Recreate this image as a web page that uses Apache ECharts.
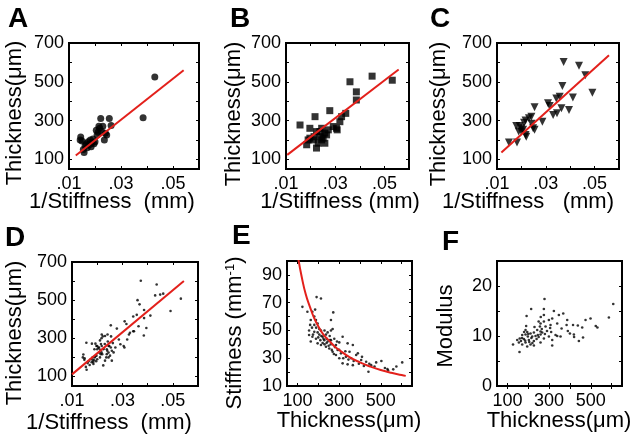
<!DOCTYPE html>
<html><head><meta charset="utf-8">
<script src="https://cdn.jsdelivr.net/npm/echarts@6/dist/echarts.min.js"></script>
<style>html,body{margin:0;padding:0;background:#fff}#c{width:642px;height:444px}</style>
</head><body><div id="c"></div>
<script>
// ---------- DATA ----------
// Panel A: 1/Stiffness (mm) vs Thickness (µm), circles
const panelA = [[0.0145,215],[0.0143,200],[0.0150,195],[0.0155,150],[0.0158,135],[0.0162,170],[0.0166,180],[0.0170,160],[0.0174,190],[0.0178,175],[0.0182,200],[0.0185,165],[0.0188,185],[0.0192,205],[0.0196,180],[0.0200,190],[0.0205,250],[0.0208,225],[0.0212,240],[0.0215,270],[0.0218,260],[0.0222,310],[0.0225,245],[0.0230,270],[0.0236,200],[0.0240,235],[0.0245,225],[0.0255,310],[0.0262,275],[0.0385,315],[0.0430,525]];
const fitA = [[0.0126,120],[0.0541,559]];
// Panel B: squares
const panelB = [[0.0157,277],[0.0197,260],[0.0218,320],[0.0184,175],[0.0190,200],[0.0197,209],[0.0211,200],[0.0214,217],[0.0224,158],[0.0231,183],[0.0238,217],[0.0245,260],[0.0245,200],[0.0251,209],[0.0258,235],[0.0258,183],[0.0265,226],[0.0272,252],[0.0278,351],[0.0292,269],[0.0305,260],[0.0308,252],[0.0319,294],[0.0326,320],[0.0343,337],[0.0360,500],[0.0386,448],[0.0386,406],[0.0450,529],[0.0532,508],[0.0238,243],[0.0224,243]];
const fitB = [[0.0105,123],[0.0558,563]];
// Panel C: down-triangles
const panelC = [[0.0149,187],[0.0182,187],[0.0179,272],[0.0193,272],[0.0200,260],[0.0189,243],[0.0207,252],[0.0217,226],[0.0220,217],[0.0217,300],[0.0231,312],[0.0241,320],[0.0254,368],[0.0248,260],[0.0254,252],[0.0286,294],[0.0309,389],[0.0316,375],[0.0330,329],[0.0346,337],[0.0343,414],[0.0357,423],[0.0368,478],[0.0373,602],[0.0364,363],[0.0395,354],[0.0411,419],[0.0436,582],[0.0462,534],[0.0491,443],[0.0200,243],[0.0211,289],[0.0242,283]];
const fitC = [[0.0118,135],[0.0559,637]];
// Panel D: all samples (A, B and C together)
const fitD = [[0.0100,111],[0.0544,600]];
// Panel E: Thickness (µm) vs Stiffness (mm^-1)
const panelE = [[192,74],[213,73],[124,67],[148,63.5],[172,63.5],[185,65],[181,60],[189,57.5],[164,57.5],[161,54],[181,54],[197,55],[156,50],[181,49],[197,48.6],[213,50],[172,45.5],[189,44],[205,47],[221,45.5],[237,47],[245,48.6],[261,50],[269,51],[272,63],[261,57.5],[229,43],[245,42],[261,43],[277,44],[197,40.7],[213,39.5],[237,38.3],[221,41],[253,37],[269,34.7],[285,39.5],[301,41.4],[317,45.5],[293,36],[309,33.5],[341,40.7],[366,39.5],[350,34.7],[333,31],[358,30],[382,32.3],[390,33.5],[317,26.3],[341,25.6],[366,25],[406,28.7],[430,27.5],[454,25],[478,27],[503,28],[419,24.4],[441,20.3],[532,22.2],[535,21.3],[575,24],[603,27],[285,32.3],[301,30],[256,43],[164,42],[156,46.7],[200,45],[210,43],[215,46],[225,44],[230,40],[240,41],[250,39],[255,46],[265,36],[280,38],[190,52],[205,51],[170,52],[175,47],[230,50],[240,44],[260,40],[275,33],[290,42],[300,36],[320,30],[330,35],[345,29],[370,28],[395,26],[410,31],[445,26],[470,24],[520,23],[560,22]];
const fitEThick = [105,120,140,160,180,200,225,250,275,300,350,400,450,500,550,600,620];
const fitEStiff = [101,89,76,67,59,53,47,43,39,36,30.8,27,24,21.5,19.5,17.9,17.3];
// Panel F: Thickness (µm) vs Modulus
const panelF = [[278,17.4],[214,15.4],[192,14],[275,15.4],[275,14.2],[323,15],[347,14.2],[368,14.5],[259,12.5],[275,12.9],[299,13.2],[315,13.5],[256,11.9],[283,11.9],[307,12.2],[190,12],[187,11.2],[339,12.5],[387,13.2],[384,12.2],[415,12.2],[438,12.1],[459,11.7],[499,13.5],[475,13.2],[524,12],[532,11.7],[587,13.7],[608,16.4],[400,10.5],[419,10.3],[339,10],[355,9.9],[443,9],[463,9.7],[315,9.2],[331,10.2],[243,11.2],[259,10.9],[227,10.7],[211,10.5],[171,10.2],[187,10.3],[198,9.9],[219,9.9],[159,9.5],[179,9.4],[203,9.2],[227,9],[147,9.2],[155,8.7],[187,8.7],[211,8.3],[171,8.3],[195,7.9],[127,8.3],[158,6.8],[227,8.1],[259,8.7],[315,8.1],[275,9.5],[299,9.9],[246,10.2],[259,10.3],[267,10.7],[180,10.8],[200,10.4],[215,9.6],[235,10],[250,9.8],[185,9.1],[205,8.8],[170,9.6],[240,9.4],[265,11.4],[290,11],[305,11.6],[230,11.8],[250,12.9],[260,13.8],[165,9],[195,10.8],[220,8.6],[280,10.4],[310,10.8],[360,11.5],[390,11],[420,9.8]];

// tick values / labels
const invTicks = [0.01,0.02,0.03,0.04,0.05];
const invLabels = [0.01,0.03,0.05];
const thickTicks = [100,200,300,400,500,600,700];
const thickLabels = [100,300,500,700];
const thickXTicks = [100,200,300,400,500,600];
const thickXLabels = [100,300,500];
const stiffTicks = [10,20,30,40,50,60,70,80,90];
const stiffLabels = [10,30,50,70,90];
const modTicks = [0,5,10,15,20];
const modLabels = [0,10,20];

// ---------- CHART ----------
const FONT = '"Liberation Sans", Arial, Helvetica, sans-serif';
const RED = '#e3201b';
const grids = [
  {left:69, top:43, width:130, height:126},
  {left:286, top:43, width:123, height:126},
  {left:497, top:43, width:122, height:126},
  {left:72, top:262, width:126, height:124},
  {left:287, top:261, width:125, height:125},
  {left:497, top:261, width:125, height:125}
].map(g => Object.assign({show:true, borderColor:'#000', borderWidth:2, backgroundColor:'transparent'}, g));

const invFmt = v => String(+v.toFixed(2)).replace(/^0/, '');
function xPair(gi, min, max, ticks, labels, fmt){
  const base = {type:'value', gridIndex:gi, min, max, splitLine:{show:false}, axisLine:{show:false}};
  return [
    Object.assign({}, base, {position:'bottom',
      axisTick:{show:true, inside:true, length:3, customValues:ticks, lineStyle:{color:'#000', width:1}},
      axisLabel:{show:true, customValues:labels, formatter:fmt, color:'#000', fontSize:18, fontFamily:FONT, margin:6}}),
    Object.assign({}, base, {position:'top',
      axisTick:{show:true, inside:true, length:3, customValues:ticks, lineStyle:{color:'#000', width:1}},
      axisLabel:{show:false}})
  ];
}
function yPair(gi, min, max, ticks, labels){
  const base = {type:'value', gridIndex:gi, min, max, splitLine:{show:false}, axisLine:{show:false}};
  return [
    Object.assign({}, base, {position:'left',
      axisTick:{show:true, inside:true, length:3, customValues:ticks, lineStyle:{color:'#000', width:1}},
      axisLabel:{show:true, customValues:labels, color:'#000', fontSize:18, fontFamily:FONT, margin:5}}),
    Object.assign({}, base, {position:'right',
      axisTick:{show:true, inside:true, length:3, customValues:ticks, lineStyle:{color:'#000', width:1}},
      axisLabel:{show:false}})
  ];
}
const xAxis = [].concat(
  xPair(0, 0.01, 0.06, invTicks, invLabels, invFmt),
  xPair(1, 0.01, 0.06, invTicks, invLabels, invFmt),
  xPair(2, 0.01, 0.06, invTicks, invLabels, invFmt),
  xPair(3, 0.01, 0.06, invTicks, invLabels, invFmt),
  xPair(4, 50, 650, thickXTicks, thickXLabels),
  xPair(5, 50, 650, thickXTicks, thickXLabels)
);
const yAxis = [].concat(
  yPair(0, 50, 700, thickTicks, thickLabels),
  yPair(1, 50, 700, thickTicks, thickLabels),
  yPair(2, 50, 700, thickTicks, thickLabels),
  yPair(3, 50, 700, thickTicks, thickLabels),
  yPair(4, 10, 100, stiffTicks, stiffLabels),
  yPair(5, 0, 25, modTicks, modLabels)
);
const panelD = [].concat(panelA, panelB, panelC);
const fitE = fitEThick.map((t, i) => [t, fitEStiff[i]]);

function scatter(i, data, symbol, size, rot){
  return {type:'scatter', xAxisIndex:2*i, yAxisIndex:2*i, data, symbol, symbolSize:size, symbolRotate:rot||0,
    itemStyle:{color:'#000'}, z:3, silent:true};
}
function fit(i, data, smooth){
  return {type:'line', xAxisIndex:2*i, yAxisIndex:2*i, data, showSymbol:false, symbol:'none', smooth:!!smooth,
    lineStyle:{color:RED, width:2}, z:4, silent:true};
}
const series = [
  scatter(0, panelA, 'circle', 7), fit(0, fitA),
  scatter(1, panelB, 'rect', 7), fit(1, fitB),
  scatter(2, panelC, 'triangle', 8, 180), fit(2, fitC),
  scatter(3, panelD, 'circle', 2.6), fit(3, fitD),
  scatter(4, panelE, 'circle', 2.6), fit(4, fitE, true),
  scatter(5, panelF, 'circle', 2.6)
];

function txt(text, x, y, size, opts){
  opts = opts || {};
  return {type:'text', x, y, rotation: opts.rot || 0, z:10, silent:true,
    style:Object.assign({text, fill:'#000', font:(opts.bold?'bold ':'') + size + 'px ' + FONT,
      textAlign: opts.align || 'center', textVerticalAlign:'middle'}, opts.style || {})};
}
const R = Math.PI/2;
const graphic = [
  txt('A', 8, 19, 28, {bold:true, align:'left'}),
  txt('B', 230, 19, 28, {bold:true, align:'left'}),
  txt('C', 430, 19, 28, {bold:true, align:'left'}),
  txt('D', 5, 238, 28, {bold:true, align:'left'}),
  txt('E', 232, 236, 28, {bold:true, align:'left'}),
  txt('F', 442, 242, 28, {bold:true, align:'left'}),
  txt('Thickness(μm)', 15, 113, 22, {rot:R}),
  txt('Thickness(μm)', 234, 114, 22, {rot:R}),
  txt('Thickness(μm)', 439, 114, 22, {rot:R}),
  txt('Thickness(μm)', 15, 333, 22, {rot:R}),
  {type:'text', x:235, y:333, rotation:R, z:10, silent:true,
    style:{text:'{a|Stiffness (mm}{b|-1}{a|)}', textAlign:'center', textVerticalAlign:'middle',
      rich:{a:{fontSize:22, fontFamily:FONT, fill:'#000', color:'#000'},
            b:{fontSize:13, fontFamily:FONT, fill:'#000', color:'#000', verticalAlign:'top', padding:[0,0,10,0]}}}},
  txt('Modulus', 446, 326, 22, {rot:R}),
  txt('1/Stiffness  (mm)', 112, 202, 22),
  txt('1/Stiffness (mm)', 340, 202, 22),
  txt('1/Stiffness   (mm)', 528, 202, 22),
  txt('1/Stiffness  (mm)', 109, 423, 22),
  txt('Thickness(μm)', 349, 421, 22),
  txt('Thickness(μm)', 559, 421, 22)
];

const chart = echarts.init(document.getElementById('c'), null, {renderer:'canvas'});
chart.setOption({animation:false, backgroundColor:'#fff', grid:grids, xAxis, yAxis, series, graphic});
</script></body></html>
